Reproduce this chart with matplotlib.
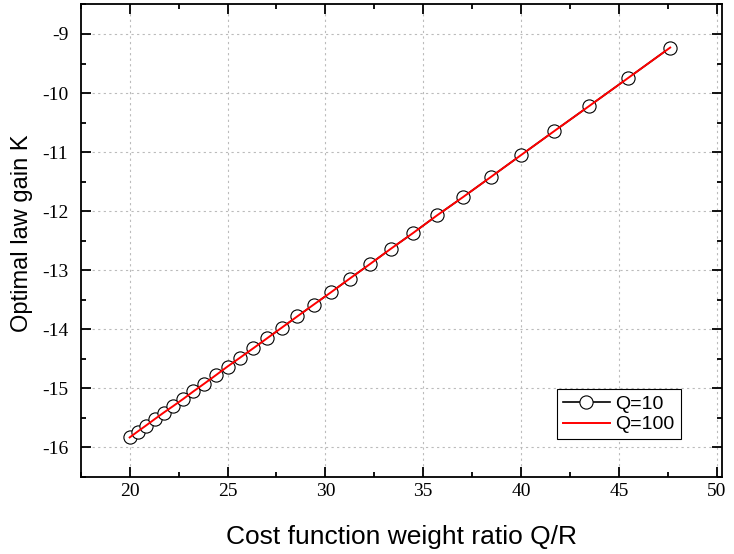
import matplotlib
matplotlib.use("Agg")
import matplotlib.pyplot as plt
from matplotlib.ticker import MultipleLocator

# Q/R ratio and optimal gain K
ratio = [20.00, 20.41, 20.83, 21.28, 21.74, 22.22, 22.73, 23.26, 23.81, 24.39,
         25.00, 25.64, 26.32, 27.03, 27.78, 28.57, 29.41, 30.30, 31.25, 32.26,
         33.33, 34.48, 35.71, 37.04, 38.46, 40.00, 41.67, 43.48, 45.45, 47.62]
k_q10 = [-15.83, -15.73, -15.63, -15.52, -15.41, -15.30, -15.18, -15.05, -14.92, -14.78,
         -14.63, -14.48, -14.32, -14.15, -13.97, -13.78, -13.58, -13.37, -13.14, -12.90,
         -12.64, -12.37, -12.07, -11.76, -11.42, -11.05, -10.65, -10.22, -9.75, -9.23]
k_q100 = list(k_q10)

xticks = [20, 25, 30, 35, 40, 45, 50]
yticks = [-16, -15, -14, -13, -12, -11, -10, -9]

fig = plt.figure(figsize=(7.34, 5.54), dpi=100)
ax = fig.add_axes([0.110, 0.139, 0.874, 0.853])

ax.plot(ratio, k_q10, color="black", lw=1.2, marker="o", ms=9.5,
        mfc="white", mec="black", mew=0.8, label="Q=10", zorder=2)
ax.plot(ratio, k_q100, color="red", lw=1.4, label="Q=100", zorder=3)

ax.set_xlim(17.5, 50.28)
ax.set_ylim(-16.5, -8.5)
ax.set_xticks(xticks)
ax.set_yticks(yticks)
ax.set_xticklabels([str(t) for t in xticks], family="Liberation Serif", fontsize=14)
ax.set_yticklabels([str(t) for t in yticks], family="Liberation Serif", fontsize=14)
ax.xaxis.set_minor_locator(MultipleLocator(2.5))
ax.yaxis.set_minor_locator(MultipleLocator(0.5))
ax.tick_params(which="both", direction="in", top=True, right=True, width=1.3)
ax.tick_params(which="major", length=7, pad=4)
ax.tick_params(axis="y", which="major", pad=9)
ax.tick_params(which="minor", length=3.5)
for s in ax.spines.values():
    s.set_linewidth(1.3)

ax.grid(True, which="major", color="#bbbbbb", linestyle=(0, (2, 3)), lw=0.8)
ax.set_axisbelow(True)

ax.set_xlabel("Cost function weight ratio Q/R", family="Liberation Sans",
              fontsize=19, labelpad=18)
ax.set_ylabel("Optimal law gain K", family="Liberation Sans", fontsize=17)
ax.yaxis.set_label_coords(-0.074, 0.516)

leg = ax.legend(loc="lower right", bbox_to_anchor=(0.935, 0.080), borderaxespad=0,
                prop={"family": "Liberation Sans", "size": 14}, fancybox=False,
                edgecolor="black", framealpha=1, handlelength=2.4,
                handletextpad=0.3, labelspacing=0.15, borderpad=0.3)
leg.get_frame().set_linewidth(0.8)

fig.savefig("out.png", dpi=100)
